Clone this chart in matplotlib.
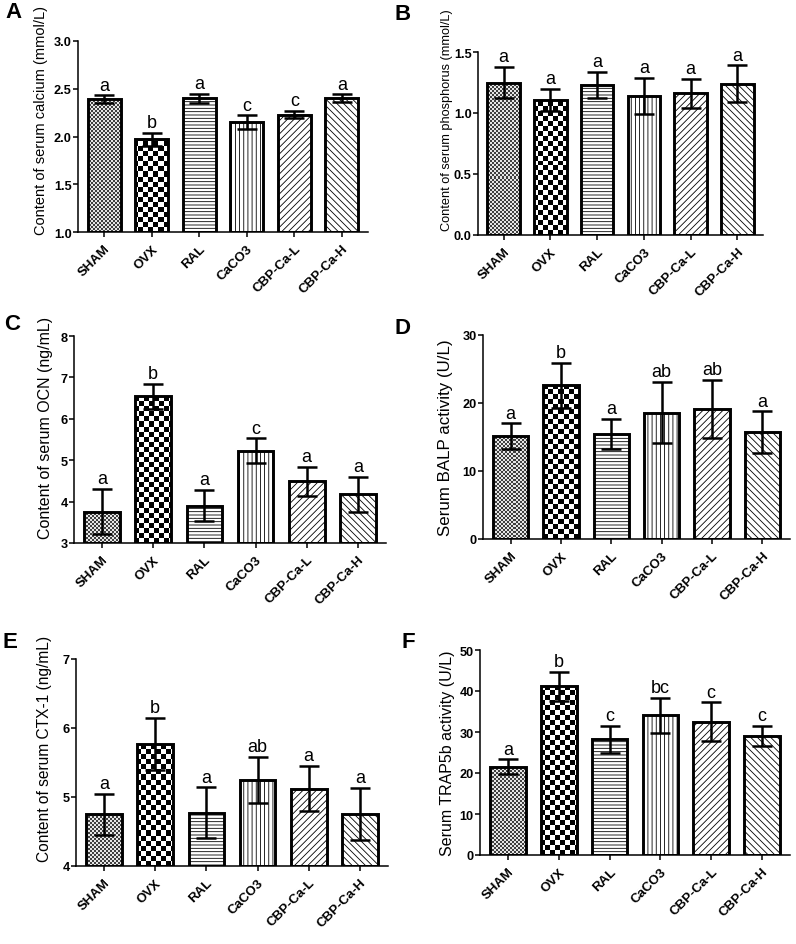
import numpy as np
import matplotlib
matplotlib.use('Agg')
import matplotlib.pyplot as plt

plt.rcParams['font.family'] = ['Liberation Sans', 'DejaVu Sans']
plt.rcParams['hatch.linewidth'] = 0.6

# ---- data ----
groups = ['SHAM', 'OVX', 'RAL', 'CaCO3', 'CBP-Ca-L', 'CBP-Ca-H']

calcium_mean = [2.39, 1.97, 2.40, 2.15, 2.23, 2.40]
calcium_err = [0.04, 0.07, 0.05, 0.07, 0.04, 0.04]
calcium_sig = ['a', 'b', 'a', 'c', 'c', 'a']

phosphorus_mean = [1.25, 1.11, 1.23, 1.14, 1.16, 1.24]
phosphorus_err = [0.13, 0.09, 0.11, 0.15, 0.12, 0.15]
phosphorus_sig = ['a', 'a', 'a', 'a', 'a', 'a']

ocn_mean = [3.76, 6.54, 3.90, 5.23, 4.49, 4.18]
ocn_err = [0.55, 0.30, 0.38, 0.30, 0.35, 0.42]
ocn_sig = ['a', 'b', 'a', 'c', 'a', 'a']

balp_mean = [15.1, 22.6, 15.5, 18.6, 19.1, 15.7]
balp_err = [1.9, 3.3, 2.2, 4.5, 4.3, 3.1]
balp_sig = ['a', 'b', 'a', 'ab', 'ab', 'a']

ctx_mean = [4.75, 5.77, 4.77, 5.25, 5.12, 4.75]
ctx_err = [0.30, 0.38, 0.37, 0.33, 0.33, 0.38]
ctx_sig = ['a', 'b', 'a', 'ab', 'a', 'a']

trap_mean = [21.5, 41.1, 28.2, 34.1, 32.5, 29.1]
trap_err = [1.8, 3.6, 3.3, 4.3, 4.7, 2.4]
trap_sig = ['a', 'b', 'c', 'bc', 'c', 'c']

# ---- styling / layout ----
W, H = 796, 945
hatches = [None, None, '-----', '||||', '/////', '\\\\\\\\\\']
# bar index -> (cell size px, dark, light)
checkers = {0: (2, 0.25, 0.9), 1: (5, 0.0, 1.0)}

fig = plt.figure(figsize=(W / 100, H / 100), dpi=100)


def px_axes(left, top, right, bottom):
    return fig.add_axes([left / W, 1 - bottom / H, (right - left) / W, (bottom - top) / H])


def add_checker(ax, bar, cell, dark, light):
    """Checkerboard fill (GraphPad style) clipped to one bar."""
    pos = ax.get_position()
    nx = max(1, int(round(pos.width * W / cell)))
    ny = max(1, int(round(pos.height * H / cell)))
    grid = np.where(np.add.outer(np.arange(ny), np.arange(nx)) % 2, light, dark)
    x0, x1 = ax.get_xlim()
    y0, y1 = ax.get_ylim()
    im = ax.imshow(grid, cmap='gray', vmin=0, vmax=1, extent=(x0, x1, y0, y1),
                   origin='lower', aspect='auto', interpolation='nearest', zorder=1.5)
    im.set_clip_path(bar)
    ax.set_xlim(x0, x1)
    ax.set_ylim(y0, y1)


def draw_panel(ax, means, errs, sig, yticks, fmt, ylabel, label_size, label_dx, label_y):
    x = np.arange(len(groups))
    base = yticks[0]
    ax.set_xlim(-0.55, len(groups) - 0.45)
    ax.set_ylim(yticks[0], yticks[-1])
    heights = np.array(means) - base
    bars = ax.bar(x, heights, bottom=base, width=0.7, facecolor='white',
                  edgecolor='black', linewidth=2.1, zorder=2)
    for i, (b, h) in enumerate(zip(bars, hatches)):
        if h:
            b.set_hatch(h)
        if i in checkers:
            b.set_facecolor('none')
            add_checker(ax, b, *checkers[i])
    ax.errorbar(x, means, yerr=errs, fmt='none', ecolor='black', elinewidth=1.8,
                capsize=7, capthick=1.8, zorder=3)
    for xi, m, e, t in zip(x, means, errs, sig):
        ax.annotate(t, (xi, m + e), xytext=(0, 4), textcoords='offset points',
                    ha='center', va='baseline', fontsize=13, annotation_clip=False)

    ax.set_yticks(yticks)
    ax.set_yticklabels([fmt.format(v) for v in yticks], fontsize=9.2, fontweight='bold')
    ax.set_xticks(x)
    ax.set_xticklabels(groups, rotation=45, ha='right', rotation_mode='anchor',
                       fontsize=9.5, fontweight='bold')
    ax.tick_params(axis='both', direction='out', length=3.5, width=1.1)
    ax.tick_params(axis='y', pad=1)
    ax.tick_params(axis='x', pad=4)
    for s in ['top', 'right']:
        ax.spines[s].set_visible(False)
    for s in ['left', 'bottom']:
        ax.spines[s].set_linewidth(1.1)
    ax.set_ylabel(ylabel, fontsize=label_size)
    width_px = ax.get_position().width * W
    ax.yaxis.set_label_coords(label_dx / width_px, label_y)


# A
ax = px_axes(78, 42, 368, 233)
draw_panel(ax, calcium_mean, calcium_err, calcium_sig, [1.0, 1.5, 2.0, 2.5, 3.0], '{:.1f}',
           'Content of serum calcium (mmol/L)', 10.5, -30, 0.59)
# B
ax = px_axes(478, 53, 763, 236)
draw_panel(ax, phosphorus_mean, phosphorus_err, phosphorus_sig, [0.0, 0.5, 1.0, 1.5], '{:.1f}',
           'Content of serum phosphorus (mmol/L)', 9.2, -25, 0.634)
# C
ax = px_axes(74, 337, 386, 544)
draw_panel(ax, ocn_mean, ocn_err, ocn_sig, [3, 4, 5, 6, 7, 8], '{:d}',
           'Content of serum OCN (ng/mL)', 11.5, -21, 0.56)
# D
ax = px_axes(483, 336, 790, 540)
draw_panel(ax, balp_mean, balp_err, balp_sig, [0, 10, 20, 30], '{:d}',
           'Serum BALP activity (U/L)', 12.2, -30, 0.5)
# E
ax = px_axes(76, 660, 388, 867)
draw_panel(ax, ctx_mean, ctx_err, ctx_sig, [4, 5, 6, 7], '{:d}',
           'Content of serum CTX-1 (ng/mL)', 11.2, -24, 0.57)
# F
ax = px_axes(480, 651, 790, 856)
draw_panel(ax, trap_mean, trap_err, trap_sig, [0, 10, 20, 30, 40, 50], '{:d}',
           'Serum TRAP5b activity (U/L)', 11.5, -25, 0.5)

for letter, (px, py) in zip('ABCDEF', [(14, 13), (403, 15), (12, 325),
                                       (403, 328), (10, 642), (408, 642)]):
    fig.text(px / W, 1 - py / H, letter, fontsize=16, fontweight='bold',
             ha='center', va='center')

fig.savefig('out.png', dpi=100)
